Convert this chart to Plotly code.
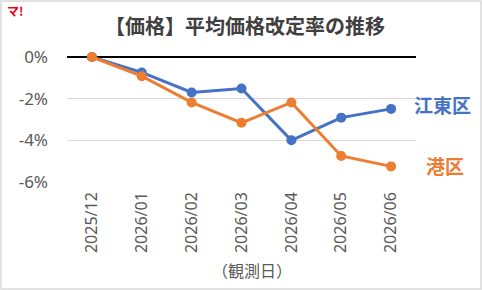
import plotly.graph_objects as go

dates = ["2025/12", "2026/01", "2026/02", "2026/03", "2026/04", "2026/05", "2026/06"]
koto = [0.0, -0.74, -1.70, -1.51, -4.00, -2.91, -2.49]
minato = [0.0, -0.92, -2.18, -3.16, -2.18, -4.75, -5.25]
yticks = [0, -2, -4, -6]
ytick_labels = ["0%", "-2%", "-4%", "-6%"]

W, H = 482, 290
L, R, T, B = 67, 66, 57, 108

BLUE = "#4472C4"
ORANGE = "#ED7D31"
FONT = "Noto Sans, Noto Sans CJK JP, sans-serif"
JFONT = "Noto Sans CJK JP, sans-serif"

fig = go.Figure()
fig.add_trace(go.Scatter(x=dates, y=koto, mode="lines+markers", name="江東区",
                         line=dict(color=BLUE, width=3), marker=dict(size=10, color=BLUE),
                         cliponaxis=False))
fig.add_trace(go.Scatter(x=dates, y=minato, mode="lines+markers", name="港区",
                         line=dict(color=ORANGE, width=3), marker=dict(size=10, color=ORANGE),
                         cliponaxis=False))

pw = W - L - R
ph = H - T - B
fig.add_shape(type="rect", xref="paper", yref="paper",
              x0=(1 - L) / pw, x1=(W - 1 - L) / pw,
              y0=-(H - 1 - T - ph) / ph, y1=1 + (T - 1) / ph,
              line=dict(color="#D9D9D9", width=1.5), layer="below")

fig.add_annotation(x=dates[-1], y=koto[-1], text="<b>江東区</b>", showarrow=False,
                   xanchor="left", yanchor="middle", xshift=21, yshift=4,
                   font=dict(family=JFONT, size=19, color=BLUE))
fig.add_annotation(x=dates[-1], y=minato[-1], text="<b>港区</b>", showarrow=False,
                   xanchor="left", yanchor="middle", xshift=33, yshift=1,
                   font=dict(family=JFONT, size=19, color=ORANGE))
fig.add_annotation(xref="paper", yref="paper", x=(252 - L) / pw, y=-(270 - T - ph) / ph,
                   text="（観測日）", showarrow=False, xanchor="center", yanchor="middle",
                   font=dict(family=JFONT, size=16, color="#595959"))
fig.add_annotation(xref="paper", yref="paper", x=(5 - L) / pw, y=1 + (T - 10) / ph,
                   text="<b>マ!</b>", showarrow=False, xanchor="left", yanchor="middle",
                   font=dict(family=JFONT, size=12, color="#E60012"))

fig.update_layout(
    width=W, height=H, margin=dict(l=L, r=R, t=T, b=B),
    paper_bgcolor="white", plot_bgcolor="white", showlegend=False,
    title=dict(text="<b>【価格】平均価格改定率の推移</b>", x=(245) / W, xanchor="center",
               y=1 - 27 / H, yanchor="middle",
               font=dict(family=JFONT, size=20, color="#404040")),
    font=dict(family=FONT, color="#595959"),
)
fig.update_xaxes(type="category", range=[-0.5, len(dates) - 0.5], tickangle=-90,
                 showgrid=False, showline=False,
                 ticks="", tickfont=dict(size=16, color="#595959"), ticklabelstandoff=6)
fig.update_yaxes(range=[-6, 0], tickvals=yticks, ticktext=ytick_labels,
                 showgrid=True, gridcolor="#D9D9D9", gridwidth=1,
                 zeroline=True, zerolinecolor="#000000", zerolinewidth=1.5,
                 showline=False, ticks="", tickfont=dict(size=17, color="#595959"),
                 ticklabelstandoff=18)

fig.write_html("out.html")
